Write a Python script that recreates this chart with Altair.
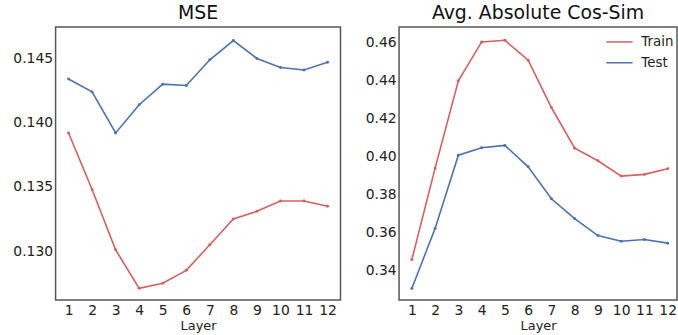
import altair as alt
import pandas as pd

layers = list(range(1, 13))

mse_train = [0.1392, 0.1348, 0.1301, 0.1271, 0.1275, 0.1285, 0.1305, 0.1325,
             0.1331, 0.1339, 0.1339, 0.1335]
mse_test = [0.1434, 0.1424, 0.1392, 0.1414, 0.1430, 0.1429, 0.1449, 0.1464,
            0.1450, 0.1443, 0.1441, 0.1447]

cos_train = [0.3456, 0.3939, 0.4400, 0.4605, 0.4614, 0.4509, 0.4259, 0.4044,
             0.3978, 0.3897, 0.3906, 0.3936]
cos_test = [0.3304, 0.3621, 0.4007, 0.4047, 0.4059, 0.3946, 0.3777, 0.3672,
            0.3583, 0.3553, 0.3562, 0.3543]

series_names = ["Train", "Test"]
series_colors = ["#d65f5f", "#4c72b0"]

FONT = "DejaVu Sans"


def long_table(train, test):
    return pd.DataFrame({
        "Layer": layers * 2,
        "value": train + test,
        "split": ["Train"] * len(layers) + ["Test"] * len(layers),
    })


def panel(df, title, domain, ticks, fmt, width, xmax, show_legend):
    cscale = alt.Scale(domain=series_names, range=series_colors)
    if show_legend:
        color = alt.Color(
            "split:N", scale=cscale,
            legend=alt.Legend(
                orient="none", legendX=208, legendY=1, title=None,
                symbolType="stroke", symbolSize=700, symbolStrokeWidth=1.5,
                labelFont=FONT, labelFontSize=13.5, labelColor="#222",
                labelOffset=8, rowPadding=-6.5, padding=0,
            ),
        )
    else:
        color = alt.Color("split:N", scale=cscale, legend=None)
    x = alt.X(
        "Layer:Q",
        scale=alt.Scale(domain=[0.45, xmax], nice=False, zero=False),
        axis=alt.Axis(values=layers, format="d", grid=False, ticks=False,
                      domain=False, labelFont=FONT, labelFontSize=14,
                      labelColor="#222", labelPadding=4, title="Layer",
                      titleFont=FONT, titleFontSize=13, titleFontWeight="normal",
                      titleColor="#222", titlePadding=2, labelFlush=False),
    )
    y = alt.Y(
        "value:Q",
        scale=alt.Scale(domain=domain, nice=False, zero=False),
        axis=alt.Axis(values=ticks, format=fmt, grid=False, ticks=False,
                      domain=False, labelFont=FONT, labelFontSize=14,
                      labelColor="#222", labelPadding=3, title=None),
    )
    base = alt.Chart(df)
    lines = base.mark_line(strokeWidth=1.6).encode(x=x, y=y, color=color)
    pts = base.mark_point(filled=True, size=9, opacity=1).encode(
        x=x, y=y, color=alt.Color("split:N", scale=cscale, legend=None)
    )
    return alt.layer(lines, pts).properties(
        width=width, height=275,
        title=alt.TitleParams(title, font=FONT, fontSize=19, fontWeight="normal",
                              color="#111", offset=4),
    )


left = panel(long_table(mse_train, mse_test), "MSE", [0.12619, 0.14745],
             [0.130, 0.135, 0.140, 0.145], ".3f", 287, 12.55, False)
right = panel(long_table(cos_train, cos_test), "Avg. Absolute Cos-Sim",
              [0.32428, 0.46838], [0.34, 0.36, 0.38, 0.40, 0.42, 0.44, 0.46],
              ".2f", 280, 12.4, True)

chart = alt.hconcat(left, right, spacing=23).resolve_scale(
    color="independent"
).properties(
    padding={"left": 12, "top": 2, "right": 0, "bottom": 0},
    background="white",
).configure_view(stroke="#555", strokeWidth=1.5)

chart.save("out.html", embed_options={"renderer": "svg", "actions": False})
